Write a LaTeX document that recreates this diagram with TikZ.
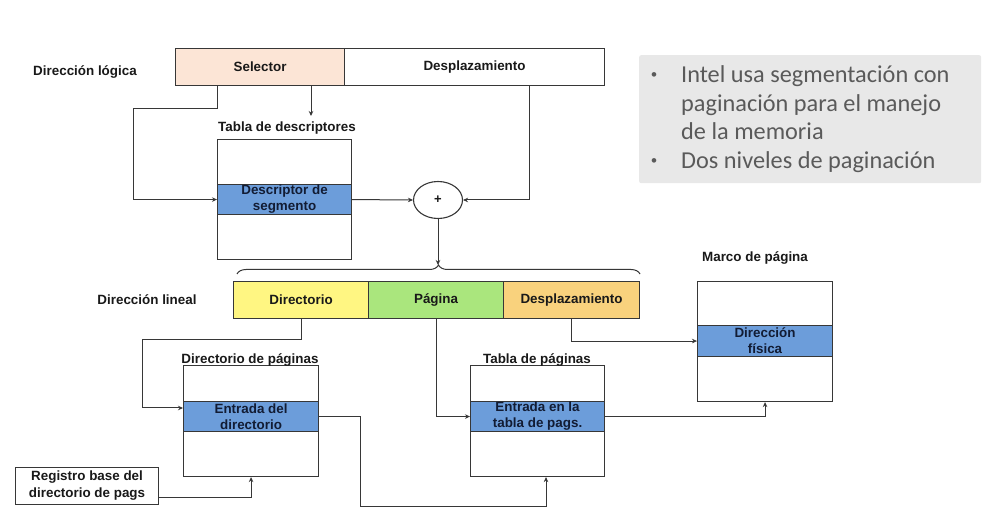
\documentclass[tikz,border=0pt]{standalone}
\usepackage{fontspec}
\setmainfont{Liberation Sans}
\newfontfamily\calibri{Carlito}
\usetikzlibrary{arrows.meta,shapes.geometric,decorations.pathreplacing}
\definecolor{ln}{RGB}{55,55,55}
\definecolor{txt}{RGB}{25,25,25}
\definecolor{bandtxt}{RGB}{18,28,52}
\definecolor{bandblue}{RGB}{108,157,218}
\definecolor{selfill}{RGB}{252,229,214}
\definecolor{yel}{RGB}{255,246,130}
\definecolor{grn}{RGB}{170,230,125}
\definecolor{org}{RGB}{249,210,125}
\definecolor{panel}{RGB}{232,232,232}
\definecolor{paneltxt}{RGB}{90,90,90}
\begin{document}
\begin{tikzpicture}[x=1pt,y=-1pt,
  lbl/.style={font=\fontsize{13.4}{16}\selectfont\bfseries, text=txt, inner sep=0},
  cell/.style={draw=ln, line width=1.1pt, minimum height=37pt, inner sep=0, anchor=north west,
    font=\fontsize{13.4}{16}\selectfont\bfseries, text=txt},
  tbox/.style={draw=ln, line width=1.1pt, fill=white, anchor=north west, inner sep=0},
  band/.style={draw=ln, line width=1.1pt, fill=bandblue, anchor=north west, inner sep=0, align=center,
    font=\fontsize{13.4}{16}\selectfont\bfseries, text=bandtxt},
  arr/.style={draw=ln, line width=1pt, -{Stealth[length=5pt,width=4.5pt]}},
  ptxt/.style={font=\calibri\fontsize{24.3}{29}\selectfont, text=paneltxt, inner sep=0, anchor=base west},
  bul/.style={font=\calibri\fontsize{13}{15}\selectfont, text=paneltxt, inner sep=0}
]
\useasboundingbox (0,0) rectangle (1004,526);
\fill[white] (0,0) rectangle (1004,526);

% logical address
\node[cell, fill=selfill, minimum width=169pt] (sel) at (175,48) {Selector};
\node[cell, fill=white, minimum width=260pt] (d1) at (344,48) {Desplazamiento};
\node[lbl] (dl) at (85,72) {Dirección lógica};

% descriptor table
\node[lbl] (tdl) at (287,128) {Tabla de descriptores};
\node[tbox, minimum width=134pt, minimum height=120pt] (tdesc) at (217,139) {};
\node[band, minimum width=134pt, minimum height=30pt] (b1) at (217,184) {Descriptor de\\segmento};

% adder
\node[draw=ln, line width=1.1pt, ellipse, minimum width=49pt, minimum height=37pt, inner sep=0, fill=white,
  font=\fontsize{13}{15}\selectfont\bfseries, text=txt] (plus) at (438,200) {+};

% connectors top
\coordinate (c1) at (133,109);
\coordinate (tdtip) at (311,116);
\draw[arr] ([xshift=42pt]sel.south west) |- (c1) |- (b1.west);
\draw[arr] ([xshift=136pt]sel.south west) -- (tdtip);
\draw[arr] (b1.east) -- (plus.west);
\draw[arr] ([xshift=185pt]d1.south west) |- (plus.east);

% brace
\draw[ln, line width=1pt, decorate, decoration={brace, amplitude=9pt}] (237,274) -- (640,274);
\coordinate (bt) at (438,265);
\draw[arr] (plus.south) -- (bt);

% linear address
\node[cell, fill=yel, minimum width=135pt] (dir) at (233,281) {Directorio};
\node[cell, fill=grn, minimum width=135pt] (pag) at (368,281) {Página};
\node[cell, fill=org, minimum width=136pt] (d2) at (503,281) {Desplazamiento};
\node[lbl] (dlin) at (147,300) {Dirección lineal};

% page directory
\node[tbox, minimum width=135pt, minimum height=111pt] (pdir) at (183,365) {};
\node[band, minimum width=135pt, minimum height=30pt] (b2) at (183,401) {Entrada del\\directorio};
\node[lbl, anchor=base] (pdl) at (250,364) {Directorio de páginas};

% page table
\node[tbox, minimum width=134pt, minimum height=111pt] (tpag) at (470,365) {};
\node[band, minimum width=134pt, minimum height=30pt] (b3) at (470,401) {Entrada en la\\tabla de pags.};
\node[lbl, anchor=base] (tpl) at (537,364) {Tabla de páginas};

% page frame
\node[tbox, minimum width=135pt, minimum height=120pt] (marco) at (697,281) {};
\node[band, minimum width=135pt, minimum height=31pt] (b4) at (697,325) {Dirección\\física};
\node[lbl] (mpl) at (755,258) {Marco de página};

% base register
\node[draw=ln, line width=1.1pt, fill=white, anchor=north west, inner sep=0, minimum width=143pt, minimum height=37pt,
  align=center, font=\fontsize{13.4}{17}\selectfont\bfseries, text=txt] (reg) at (15,467) {Registro base del\\directorio de pags};

% connectors bottom
\coordinate (k1) at (142,340);
\coordinate (k2) at (142,408);
\draw[arr] (dir.south) |- (k1) -- (k2) -- (b2.west |- k2);
\coordinate (k3) at (251,497);
\draw[arr] (reg.east |- k3) -| (pdir.south);
\coordinate (k4) at (360,506);
\coordinate (k5) at (546,506);
\draw[arr] (b2.east) -| (k4) -- (k5) -- (k5 |- tpag.south);
\draw[arr] (pag.south) |- (b3.west);
\draw[arr] (b3.east) -| (marco.south);
\draw[arr] (d2.south) |- (b4.west);

% side panel
\node[fill=panel, rounded corners=2pt, minimum width=342pt, minimum height=128pt, anchor=north west, inner sep=0] (panel) at (639,55) {};
\node[bul] (bu1) at (654,76) {•};
\node[ptxt] (t1) at (681,83) {Intel usa segmentación con};
\node[ptxt] (t2) at (681,112) {paginación para el manejo};
\node[ptxt] (t3) at (681,140) {de la memoria};
\node[bul] (bu2) at (654,162) {•};
\node[ptxt] (t4) at (681,169) {Dos niveles de paginación};
\end{tikzpicture}
\end{document}
